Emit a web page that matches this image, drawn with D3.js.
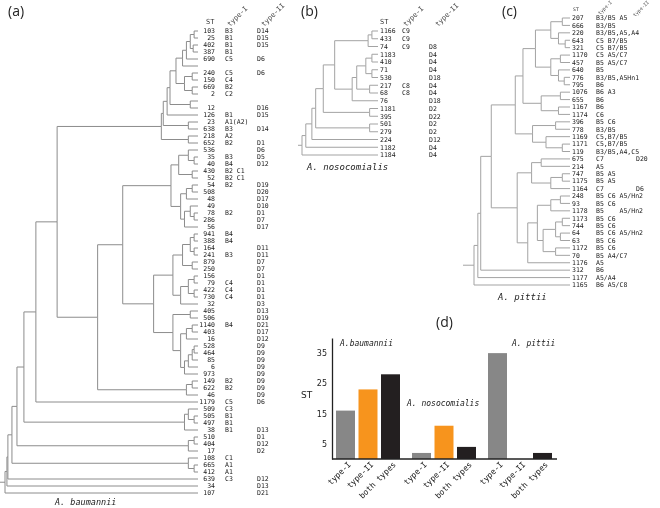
<!DOCTYPE html>
<html><head><meta charset="utf-8">
<script src="https://cdn.jsdelivr.net/npm/d3@7"></script>
<style>body{margin:0;background:#fff}svg{display:block}</style>
</head><body><svg width="660" height="508">
<defs><filter id="gs" x="0" y="0" width="1" height="1" filterUnits="objectBoundingBox"><feColorMatrix type="saturate" values="0"/></filter></defs>
</svg>
<script>
// ---------- Panel (a): A. baumannii ----------
const aST = ["103","25","402","387","690","","240","150","669","2","","12","126","23","638","218","652","536","35","40","430","52","54","508","48","49","78","286","56","941","388","164","241","879","250","156","79","422","730","32","405","506","1140","403","16","528","464","85","6","973","149","622","46","1179","509","505","497","38","510","404","17","108","665","412","639","34","107"];
const aType1 = ["B3","B1","B1","B1","C5","","C5","C4","B2","C2","","","B1","A1(A2)","B3","A2","B2","","B3","B4","B2 C1","B2 C1","B2","","","","B2","","","B4","B4","","B3","","","","C4","C4","C4","","","","B4","","","","","","","","B2","B2","","C5","C3","B1","B1","B1","","","","C1","A1","A1","C3","",""];
const aType2 = ["D14","D15","D15","","D6","","D6","","","","","D16","D15","","D14","","D1","D6","D5","D12","","","D19","D20","D17","D10","D1","D7","D17","","","D11","D11","D7","D7","D1","D1","D1","D1","D3","D13","D19","D21","D17","D12","D9","D9","D9","D9","D9","D9","D9","D9","D6","","","","D13","D1","D12","D2","","","","D12","D13","D21"];
// tree: [node depth (0 = root, 100 = tips), children...]; leaves = leaf index
const aTree = [0,[1,[1.5,[3.6,[6.2,[9.8,[16,[27,
  [81,[82,[84,[85.5,[88.6,[92,[94,[96,[98,0,1],[97.5,2,3]],4],5],[93,[97,6,7],[97,8,9]]],[96,10,11]],12],[95,13,14]],[95,15,16]],
  [48,[61,
    [86,[90,[95,17,[98,18,19]],[97,20,21]],[91,[94,[97,22,23],24],[93,[96,25,[98,26,27]],28]]],
    [77,[87,[92,[96,[98,29,30],[98,31,32]],[97,33,34]],[91,[95,[98,35,36],[98,37,38]],39]],
        [87,[96,40,41],[91,[94,[97,42,43],44],[93,[95,[97,[98,45,46],47],48],49]]]]],
   [94,[97,50,51],52]]],
  53],[93,[95,54,[98,55,56]],57]],[95,[98,58,59],60]],[95,61,[98,62,63]]],64],65],66];

// ---------- Panel (b): A. nosocomialis ----------
const bST = ["1166","433","74","1183","410","71","530","217","68","76","1181","395","501","279","224","1182","1184"];
const bType1 = ["C9","C9","C9","","","","","C8","C8","","","","","","","",""];
const bType2 = ["","","D8","D4","D4","D4","D18","D4","D4","D18","D2","D22","D2","D2","D12","D4","D4"];
const bTree = [0,[5,[13,[18,[28,[43,[87,[92,0,1],2],[66,[72,[84,[92,3,4],[92,5,6]],[89,7,8]],9]],[89,10,11]],[89,12,13]],14],15],16];

// ---------- Panel (c): A. pittii ----------
const cST = ["207","666","220","643","321","1170","457","640","776","795","1076","655","1167","1174","396","778","1169","1171","119","675","214","747","1175","1164","248","93","1178","1173","744","64","63","1172","70","1176","312","1177","1165"];
const cType1 = ["B3/B5 A5","B3/B5","B3/B5,A5,A4","C5 B7/B5","C5 B7/B5","C5 A5/C7","B5 A5/C7","B5","B3/B5,A5Hn1","B6","B6 A3","B6","B6","C6","B5 C6","B3/B5","C5,B7/B5","C5,B7/B5","B3/B5,A4,C5","C7","A5","B5 A5","B5 A5","C7","B5 C6 A5/Hn2","B5 C6","B5    A5/Hn2","B5 C6","B5 C6","B5 C6 A5/Hn2","B5 C6","B5 C6","B5 A4/C7","A5","B6","A5/A4","B6 A5/C8"];
const cType2 = ["","","","","","","","","","","","","","","","","","","","D20","","","","D6","","","","","","","","","","","","",""];
const cTree = [0,[4,[7,
  [18,
    [43,
      [51,
        [64,[80,[92,0,1],[88,2,[95,3,4]]],[80,[90,5,6],[88,7,[94,8,9]]]],
        [70,[90,10,11],[88,12,13]]],
      [61,[85,14,15],[75,16,[92,17,18]]]],
    [45,
      [60,[70,19,20],[80,[92,21,22],23]],
      [56,[66,[80,[90,24,25],26],[72,[85,[92,27,28],[90,29,30]],[85,31,32]]],33]]],
  34],35],36];

// ---------- Panel (d): number of STs ----------
const dGroups = ["A.baumannii","A. nosocomialis","A. pittii"];
const dTypes = ["type-I","type-II","both types"];
const baumanniiST = [16,23,28];
const nosocomialisST = [2,11,4];
const pittiiST = [35,0,2];
const dTicks = [5,15,25,35];
const dColors = ["#878787","#f7941d","#231f20"];

const svg = d3.select("svg");
const MONO = "DejaVu Sans Mono";
const LINE = "#a3a3a3";

function drawTree(t, o) {
  const g = svg.append("g").attr("filter", "url(#gs)");
  g.append("rect").attr("x", o.box[0]).attr("y", o.box[1]).attr("width", o.box[2]).attr("height", o.box[3])
    .attr("fill", "#fff");
  const root = d3.hierarchy(t, d => Array.isArray(d) ? d.slice(1) : null);
  const xs = d3.scaleLinear().domain([0, 100]).range([o.x0, o.x1]);
  const ys = d3.scaleLinear().domain([0, o.n - 1]).range([o.y0, o.y1]);
  root.eachAfter(n => {
    if (n.children) {
      n.px = xs(n.data[0]);
      n.py = (n.children[0].py + n.children[n.children.length - 1].py) / 2;
    } else { n.px = o.x1; n.py = ys(n.data); }
  });
  g.append("g").selectAll("path").data(root.links()).join("path")
    .attr("d", l => `M${l.source.px},${l.source.py}V${l.target.py}H${l.target.px}`)
    .attr("fill", "none").attr("stroke", o.color).attr("stroke-width", 1);
  g.append("path").attr("d", `M${o.stub},${root.py}H${root.px}`)
    .attr("fill", "none").attr("stroke", o.color).attr("stroke-width", 1);
  const cols = [[o.st, o.stx, o.stAnchor], [o.t1, o.t1x, "start"], [o.t2, o.t2x, "start"]];
  cols.forEach(([arr, x, anchor]) => {
    g.append("g").selectAll("text").data(arr).join("text")
      .attr("x", x).attr("y", (d, i) => ys(i)).attr("dy", "0.35em")
      .attr("text-anchor", anchor).attr("font-family", MONO).attr("font-size", o.fs)
      .attr("fill", "#222").style("white-space", "pre").text(d => d);
  });
  // headers
  g.append("text").attr("x", o.hST[0]).attr("y", o.hST[1]).attr("font-family", MONO)
    .attr("font-size", o.hfs).attr("fill", "#333").text("ST");
  [["type-I", o.h1], ["type-II", o.h2]].forEach(([s, p]) => {
    g.append("text").attr("transform", `translate(${p[0]},${p[1]}) rotate(-45)`)
      .attr("font-family", MONO).attr("font-size", o.hfs).attr("fill", "#444").text(s);
  });
  g.append("text").attr("x", o.sp[0]).attr("y", o.sp[1]).attr("font-family", MONO)
    .attr("font-style", "italic").attr("font-size", o.spfs).attr("fill", "#222").text(o.species);
}

drawTree(aTree, {n: aST.length, x0: 5, x1: 198, y0: 31, y1: 493, stub: 0, color: "#8c8c8c",
  box: [0, 0, 296, 508],
  st: aST, stx: 215, stAnchor: "end", t1: aType1, t1x: 225, t2: aType2, t2x: 257, fs: 6.5, hfs: 7,
  hST: [206, 24], h1: [230, 27], h2: [264, 27], species: "A. baumannii", sp: [55, 505], spfs: 8.5});
drawTree(bTree, {n: bST.length, x0: 302, x1: 378, y0: 31, y1: 155, stub: 298, color: LINE,
  box: [296, 0, 168, 176],
  st: bST, stx: 380, stAnchor: "start", t1: bType1, t1x: 402, t2: bType2, t2x: 429, fs: 6.5, hfs: 7,
  hST: [380, 24], h1: [406, 27], h2: [438, 27], species: "A. nosocomialis", sp: [307, 170], spfs: 9});
drawTree(cTree, {n: cST.length, x0: 474, x1: 570, y0: 18, y1: 285, stub: 463, color: LINE,
  box: [460, 0, 200, 304],
  st: cST, stx: 572, stAnchor: "start", t1: cType1, t1x: 596, t2: cType2, t2x: 636, fs: 6.5, hfs: 4.8,
  hST: [573, 11], h1: [600, 15], h2: [635, 17], species: "A. pittii", sp: [498, 300], spfs: 9});

// panel letters
[["(a)", 8, 16], ["(b)", 301, 16], ["(c)", 502, 16], ["(d)", 436, 327]].forEach(([s, x, y]) => {
  svg.append("text").attr("x", x).attr("y", y).attr("font-family", "Open Sans")
    .attr("font-size", 14).attr("fill", "#222").text(s);
});

// ---------- bar chart ----------
const gd = svg.append("g");
const gt = svg.append("g").attr("filter", "url(#gs)");
const dValues = [baumanniiST, nosocomialisST, pittiiST];
const x0 = d3.scaleBand().domain(dGroups).range([336, 552]).paddingInner(0.158).paddingOuter(0);
const x1 = d3.scaleBand().domain(dTypes).range([0, x0.bandwidth()]).paddingInner(0.156).paddingOuter(0);
const y = d3.scaleLinear().domain([0, 40]).range([459, 338]);

// white backing for the grayscale text layer (below bars' baseline and left of axis)
gt.append("rect").attr("x", 298).attr("y", 462).attr("width", 262).attr("height", 46).attr("fill", "#fff");

dGroups.forEach((grp, gi) => {
  gd.append("g").selectAll("rect").data(dValues[gi]).join("rect")
    .attr("x", (d, i) => x0(grp) + x1(dTypes[i])).attr("width", x1.bandwidth())
    .attr("y", d => y(d)).attr("height", d => y(0) - y(d))
    .attr("fill", (d, i) => dColors[i]);
  dTypes.forEach(t => {
    const cx = x0(grp) + x1(t) + x1.bandwidth() / 2;
    gt.append("text").attr("transform", `translate(${cx + 6},${y(0) + 6}) rotate(-45)`)
      .attr("text-anchor", "end").attr("font-family", MONO).attr("font-size", 8)
      .attr("fill", "#222").text(t);
  });
});
const yAxis = d3.axisLeft(y).tickValues(dTicks).tickSize(0).tickPadding(5);
const ya = gd.append("g").attr("transform", `translate(332,0)`).call(yAxis);
ya.select(".domain").attr("stroke", "#222").attr("stroke-width", 1.3);
ya.selectAll("text").attr("font-family", "DejaVu Sans").attr("font-size", 8).attr("fill", "#222");
gd.append("line").attr("x1", 332).attr("x2", 557).attr("y1", y(0)).attr("y2", y(0))
  .attr("stroke", "#222").attr("stroke-width", 1.5);
gd.append("text").attr("x", 301).attr("y", 398).attr("font-family", "DejaVu Sans")
  .attr("font-size", 9).attr("fill", "#222").text("ST");
// group labels
const glab = [[0, 4, 37.5], [1, -5, 17.5], [2, 24, 37.5]];
glab.forEach(([gi, dx, v]) => {
  gd.append("text").attr("x", x0(dGroups[gi]) + dx).attr("y", y(v))
    .attr("font-family", MONO).attr("font-style", "italic").attr("font-size", 8)
    .attr("fill", "#222").text(dGroups[gi]);
});
</script></body></html>
